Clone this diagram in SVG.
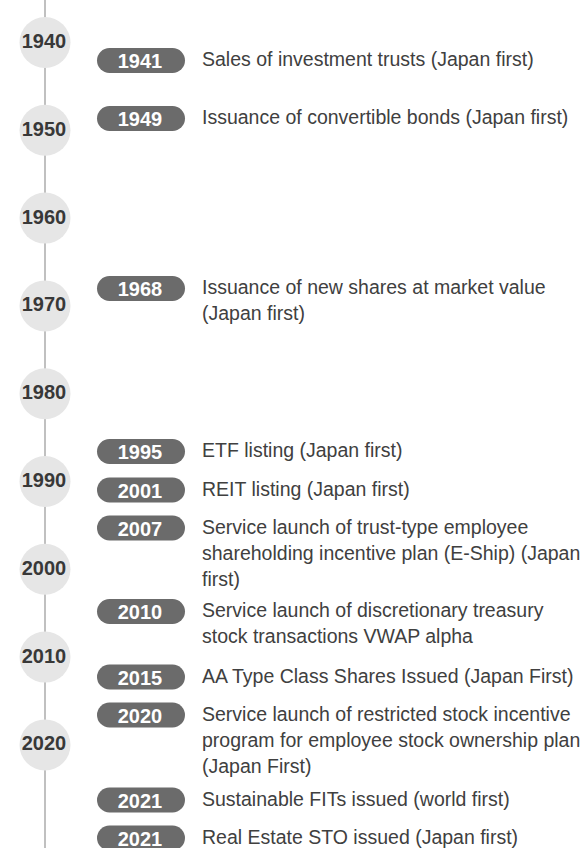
<svg xmlns="http://www.w3.org/2000/svg" width="581" height="848" viewBox="0 0 581 848">
<style>
.dc{fill:#e6e6e6}
.dt{font-family:"Liberation Sans",Arial,sans-serif;font-size:20px;font-weight:bold;fill:#383838;text-anchor:middle}
.pill{fill:#6b6b6b}
.pt{font-family:"Liberation Sans",Arial,sans-serif;font-size:20px;font-weight:bold;fill:#fff;text-anchor:middle}
.et{font-family:"Liberation Sans",Arial,sans-serif;font-size:19.5px;fill:#404040}
</style>
<rect width="581" height="848" fill="#fff"/>
<g id="connectors">
<line x1="45" y1="0" x2="45" y2="848" stroke="#ababab" stroke-width="1.5"/>
</g>
<g id="d1940"><circle class="dc" cx="45" cy="42.5" r="25.5"/><text class="dt" x="44" y="48">1940</text></g>
<g id="d1950"><circle class="dc" cx="45" cy="130.3" r="25.5"/><text class="dt" x="44" y="135.8">1950</text></g>
<g id="d1960"><circle class="dc" cx="45" cy="218.1" r="25.5"/><text class="dt" x="44" y="223.6">1960</text></g>
<g id="d1970"><circle class="dc" cx="45" cy="305.9" r="25.5"/><text class="dt" x="44" y="311.4">1970</text></g>
<g id="d1980"><circle class="dc" cx="45" cy="393.7" r="25.5"/><text class="dt" x="44" y="399.2">1980</text></g>
<g id="d1990"><circle class="dc" cx="45" cy="481.5" r="25.5"/><text class="dt" x="44" y="487">1990</text></g>
<g id="d2000"><circle class="dc" cx="45" cy="569.3" r="25.5"/><text class="dt" x="44" y="574.8">2000</text></g>
<g id="d2010"><circle class="dc" cx="45" cy="657.1" r="25.5"/><text class="dt" x="44" y="662.6">2010</text></g>
<g id="d2020"><circle class="dc" cx="45" cy="744.9" r="25.5"/><text class="dt" x="44" y="750.4">2020</text></g>

<g id="e1941"><rect class="pill" x="97" y="48" width="88" height="25" rx="12.5"/><text class="pt" x="140" y="68">1941</text>
<text class="et" x="202" y="66">Sales of investment trusts (Japan first)</text></g>
<g id="e1949"><rect class="pill" x="97" y="106" width="88" height="25" rx="12.5"/><text class="pt" x="140" y="126">1949</text>
<text class="et" x="202" y="124">Issuance of convertible bonds (Japan first)</text></g>
<g id="e1968"><rect class="pill" x="97" y="276" width="88" height="25" rx="12.5"/><text class="pt" x="140" y="296">1968</text>
<text class="et" x="202" y="294">Issuance of new shares at market value</text>
<text class="et" x="202" y="320">(Japan first)</text></g>
<g id="e1995"><rect class="pill" x="97" y="439" width="88" height="25" rx="12.5"/><text class="pt" x="140" y="459">1995</text>
<text class="et" x="202" y="457">ETF listing (Japan first)</text></g>
<g id="e2001"><rect class="pill" x="97" y="477.5" width="88" height="25" rx="12.5"/><text class="pt" x="140" y="497.5">2001</text>
<text class="et" x="202" y="495.5">REIT listing (Japan first)</text></g>
<g id="e2007"><rect class="pill" x="97" y="515.5" width="88" height="25" rx="12.5"/><text class="pt" x="140" y="535.5">2007</text>
<text class="et" x="202" y="533.5">Service launch of trust-type employee</text>
<text class="et" x="202" y="559.5">shareholding incentive plan (E-Ship) (Japan</text>
<text class="et" x="202" y="585.5">first)</text></g>
<g id="e2010"><rect class="pill" x="97" y="599" width="88" height="25" rx="12.5"/><text class="pt" x="140" y="619">2010</text>
<text class="et" x="202" y="617">Service launch of discretionary treasury</text>
<text class="et" x="202" y="643">stock transactions VWAP alpha</text></g>
<g id="e2015"><rect class="pill" x="97" y="664.5" width="88" height="25" rx="12.5"/><text class="pt" x="140" y="684.5">2015</text>
<text class="et" x="202" y="682.5">AA Type Class Shares Issued (Japan First)</text></g>
<g id="e2020"><rect class="pill" x="97" y="702.5" width="88" height="25" rx="12.5"/><text class="pt" x="140" y="722.5">2020</text>
<text class="et" x="202" y="720.5">Service launch of restricted stock incentive</text>
<text class="et" x="202" y="746.5">program for employee stock ownership plan</text>
<text class="et" x="202" y="772.5">(Japan First)</text></g>
<g id="e2021a"><rect class="pill" x="97" y="787.5" width="88" height="25" rx="12.5"/><text class="pt" x="140" y="807.5">2021</text>
<text class="et" x="202" y="805.5">Sustainable FITs issued (world first)</text></g>
<g id="e2021b"><rect class="pill" x="97" y="825.5" width="88" height="25" rx="12.5"/><text class="pt" x="140" y="845.5">2021</text>
<text class="et" x="202" y="843.5">Real Estate STO issued (Japan first)</text></g>
</svg>
